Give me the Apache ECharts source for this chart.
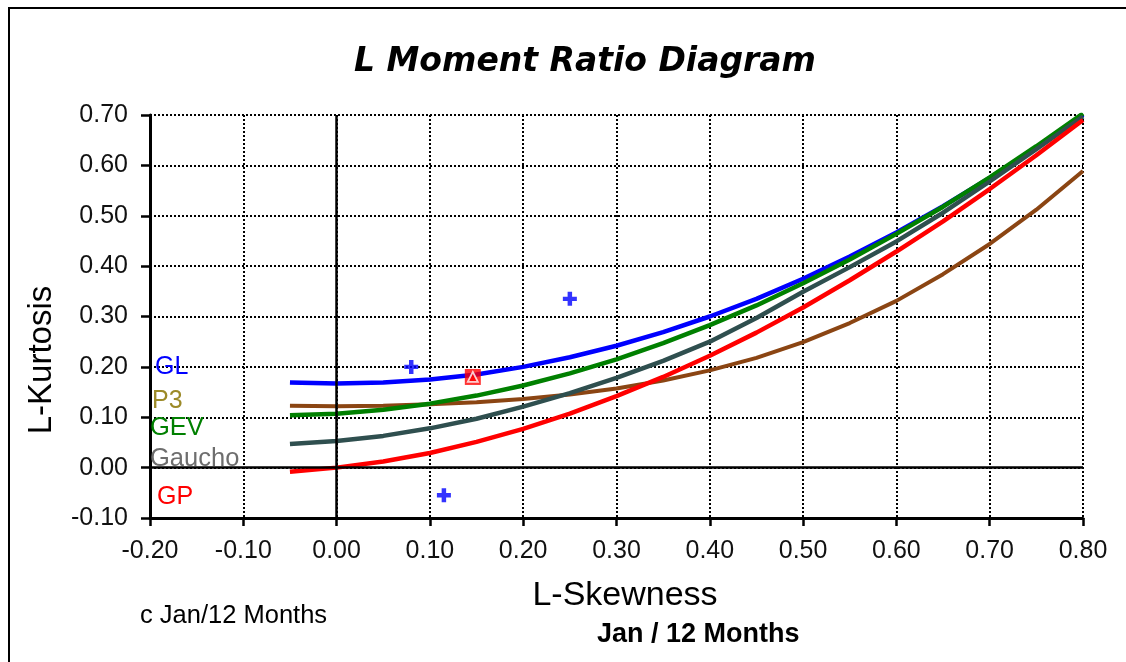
<!DOCTYPE html>
<html>
<head>
<meta charset="utf-8">
<script src="https://cdn.jsdelivr.net/npm/echarts@6/dist/echarts.min.js"></script>
<style>
  html, body { margin: 0; padding: 0; background: #fff; }
  #chart { width: 1126px; height: 662px; }
</style>
</head>
<body>
<div id="chart"></div>
<script>
// L-skewness positions shared by the theoretical curves
const skewness = [-0.05, 0.00, 0.05, 0.10, 0.15, 0.20, 0.25, 0.30, 0.35, 0.40,
                  0.45, 0.50, 0.55, 0.60, 0.65, 0.70, 0.75, 0.80];

// L-kurtosis of each distribution at the skewness points above
const kurtGL     = [0.169, 0.167, 0.169, 0.175, 0.185, 0.200, 0.219, 0.242, 0.269, 0.300,
                    0.335, 0.375, 0.419, 0.467, 0.519, 0.575, 0.635, 0.700];
const kurtP3     = [0.123, 0.122, 0.123, 0.126, 0.130, 0.136, 0.145, 0.157, 0.173, 0.193,
                    0.218, 0.249, 0.287, 0.331, 0.384, 0.444, 0.512, 0.589];
const kurtGEV    = [0.104, 0.107, 0.115, 0.127, 0.143, 0.163, 0.187, 0.215, 0.247, 0.283,
                    0.322, 0.366, 0.413, 0.464, 0.518, 0.576, 0.638, 0.703];
const kurtGaucho = [0.047, 0.053, 0.063, 0.078, 0.097, 0.121, 0.148, 0.178, 0.212, 0.250,
                    0.297, 0.349, 0.398, 0.449, 0.506, 0.568, 0.632, 0.697];
const kurtGP     = [-0.008, 0.000, 0.012, 0.029, 0.051, 0.077, 0.107, 0.142, 0.180, 0.222,
                    0.268, 0.318, 0.372, 0.429, 0.489, 0.553, 0.620, 0.690];

// Sample L-moment ratios (skewness, kurtosis)
const sitePoints = [[0.08, 0.20], [0.25, 0.335], [0.115, -0.055]];
const regionalMean = [[0.146, 0.180]];

// Axis ticks
const xTicks = { min: -0.2, max: 0.8, step: 0.1 };
const yTicks = { min: -0.1, max: 0.7, step: 0.1 };

const FONT = "'Liberation Sans', Arial, sans-serif";
const plusPath = 'path://M3.4,0H6.6V3.4H10V6.6H6.6V10H3.4V6.6H0V3.4H3.4Z';

function pairs(ys) { return skewness.map((x, i) => [x, ys[i]]); }

function curve(name, ys, color, width) {
  return {
    name, type: 'line', data: pairs(ys), showSymbol: false, smooth: false,
    lineStyle: { color, width }, z: 3, silent: true, animation: false
  };
}

const chart = echarts.init(document.getElementById('chart'), null, { renderer: 'canvas' });

chart.setOption({
  animation: false,
  backgroundColor: '#fff',
  grid: { left: 150, right: 43, top: 115, bottom: 144 },
  xAxis: {
    type: 'value', min: xTicks.min, max: xTicks.max, interval: xTicks.step,
    axisLine: { onZero: false, lineStyle: { color: '#000', width: 3 } },
    axisTick: { show: true, length: 8, lineStyle: { color: '#000', width: 2.5 } },
    axisLabel: { margin: 21, fontFamily: FONT, fontSize: 25, color: '#111',
                 formatter: v => v.toFixed(2) },
    splitLine: { show: true, lineStyle: { color: '#000', width: 2, type: [2, 2] } }
  },
  yAxis: {
    type: 'value', min: yTicks.min, max: yTicks.max, interval: yTicks.step,
    axisLine: { show: true, onZero: false, lineStyle: { color: '#000', width: 3 } },
    axisTick: { show: true, length: 9, lineStyle: { color: '#000', width: 2.5 } },
    axisLabel: { margin: 22, fontFamily: FONT, fontSize: 25, color: '#111',
                 formatter: v => v.toFixed(2) },
    splitLine: { show: true, lineStyle: { color: '#000', width: 2, type: [2, 2] } }
  },
  series: [
    {
      // zero reference lines
      type: 'scatter', data: [], z: 2, silent: true,
      markLine: {
        silent: true, symbol: 'none', animation: false,
        label: { show: false },
        lineStyle: { color: '#000', width: 2.5, type: 'solid' },
        emphasis: { disabled: true },
        data: [{ xAxis: 0 }, { yAxis: 0 }]
      }
    },
    curve('GL', kurtGL, '#0000ff', 4.5),
    curve('P3', kurtP3, '#8b4513', 4),
    curve('GEV', kurtGEV, '#008000', 4.5),
    curve('Gaucho', kurtGaucho, '#2f4f4f', 4.5),
    curve('GP', kurtGP, '#ff0000', 4.5),
    {
      name: 'Sites', type: 'scatter', data: sitePoints, symbol: plusPath, symbolSize: 14,
      itemStyle: { color: '#0000ff' }, z: 5, silent: true
    },
    {
      name: 'Mean', type: 'scatter', data: regionalMean, symbol: 'rect', symbolSize: 16,
      itemStyle: { color: '#ff0000' }, z: 5, silent: true
    },
    {
      name: 'MeanInner', type: 'scatter', data: regionalMean, symbol: 'triangle', symbolSize: 10,
      itemStyle: { color: '#ff0000', borderColor: '#fff', borderWidth: 1.8 }, z: 6, silent: true
    }
  ],
  graphic: [
    { type: 'rect', shape: { x: 9, y: 8, width: 1200, height: 700 }, z: 0,
      style: { fill: 'none', stroke: '#000', lineWidth: 2 } },
    { type: 'text', x: 585, y: 62, z: 10,
      style: { text: 'L Moment Ratio Diagram', font: "italic bold 33px 'DejaVu Sans'",
               fill: '#000', textAlign: 'center', textVerticalAlign: 'middle' } },
    { type: 'text', x: 42, y: 360, rotation: Math.PI / 2, z: 10,
      style: { text: 'L-Kurtosis', font: '33px ' + FONT, fill: '#000',
               textAlign: 'center', textVerticalAlign: 'middle' } },
    { type: 'text', x: 625, y: 596, z: 10,
      style: { text: 'L-Skewness', font: '34px ' + FONT, fill: '#000',
               textAlign: 'center', textVerticalAlign: 'middle' } },
    { type: 'text', x: 140, y: 616, z: 10,
      style: { text: 'c Jan/12 Months', font: '25.5px ' + FONT, fill: '#000',
               textAlign: 'left', textVerticalAlign: 'middle' } },
    { type: 'text', x: 597, y: 635, z: 10,
      style: { text: 'Jan / 12 Months', font: 'bold 27px ' + FONT, fill: '#000',
               textAlign: 'left', textVerticalAlign: 'middle' } },
    { type: 'text', x: 155, y: 367, z: 10,
      style: { text: 'GL', font: '25px ' + FONT, fill: '#0000ff', textVerticalAlign: 'middle' } },
    { type: 'text', x: 152, y: 401, z: 10,
      style: { text: 'P3', font: '25px ' + FONT, fill: '#9c8a28', textVerticalAlign: 'middle' } },
    { type: 'text', x: 150, y: 428, z: 10,
      style: { text: 'GEV', font: '25.5px ' + FONT, fill: '#008000', textVerticalAlign: 'middle' } },
    { type: 'text', x: 150, y: 459, z: 10,
      style: { text: 'Gaucho', font: '25.5px ' + FONT, fill: '#6e6e6e', textVerticalAlign: 'middle' } },
    { type: 'text', x: 157, y: 497, z: 10,
      style: { text: 'GP', font: '25px ' + FONT, fill: '#ff0000', textVerticalAlign: 'middle' } }
  ]
});
</script>
</body>
</html>
